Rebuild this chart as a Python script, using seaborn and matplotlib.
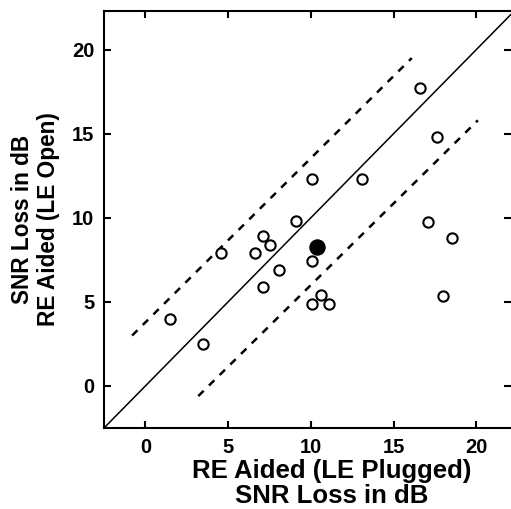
import numpy as np
import pandas as pd
import seaborn as sns
import matplotlib
matplotlib.use('Agg')
import matplotlib.pyplot as plt

# plain white style with inward ticks
sns.set_style('ticks')
plt.rcParams['font.family'] = ['Liberation Sans', 'DejaVu Sans']
plt.rcParams['font.weight'] = 'bold'
plt.rcParams['text.color'] = 'black'
plt.rcParams['axes.labelcolor'] = 'black'
plt.rcParams['axes.edgecolor'] = 'black'
plt.rcParams['xtick.color'] = 'black'
plt.rcParams['ytick.color'] = 'black'

# individual listeners: RE aided (LE plugged) vs RE aided (LE open), dB SNR loss
plugged = [1.5, 3.5, 4.6, 6.6, 7.1, 7.55, 8.1, 7.1, 9.1, 10.1, 10.6, 10.1, 11.1,
           17.1, 18.55, 18.0, 16.6, 17.6, 10.1, 13.1]
open_ear = [4.0, 2.5, 7.9, 7.9, 8.9, 8.4, 6.9, 5.9, 9.8, 7.45, 5.4, 4.9, 4.9,
            9.75, 8.8, 5.35, 17.75, 14.8, 12.3, 12.3]

# group mean (filled symbol)
mean_plugged = [10.4]
mean_open = [8.25]

# unity line and the +/- critical difference lines
unity_x = [-2.5, 22.5]
unity_y = [-2.5, 22.5]
upper_x = [-0.8, 16.1]
upper_y = [3.0, 19.5]
lower_x = [3.2, 20.1]
lower_y = [-0.6, 15.8]

xticks = [0, 5, 10, 15, 20]
yticks = [0, 5, 10, 15, 20]

pts = pd.DataFrame({'plugged': plugged, 'open': open_ear})
mean = pd.DataFrame({'plugged': mean_plugged, 'open': mean_open})

fig = plt.figure(figsize=(5.11, 5.09), dpi=100)
ax = fig.add_axes([104 / 511, 1 - 428 / 509, 1 - 104 / 511, (428 - 11) / 509])

ax.plot(unity_x, unity_y, color='black', lw=1.1)
ax.plot(upper_x, upper_y, color='black', lw=1.8, ls=(0, (3, 3)))
ax.plot(lower_x, lower_y, color='black', lw=1.8, ls=(0, (3, 3)))

sns.scatterplot(data=pts, x='plugged', y='open', ax=ax, s=55, marker='o',
                facecolor='white', edgecolor='black', linewidth=1.5, zorder=3)
sns.scatterplot(data=mean, x='plugged', y='open', ax=ax, s=120, marker='o',
                color='black', edgecolor='black', zorder=4)

ax.set_xlim(-2.5, 22.1)
ax.set_ylim(-2.5, 22.3)
ax.set_xticks(xticks)
ax.set_yticks(yticks)
ax.tick_params(direction='in', length=5, width=1.5, labelsize=14.5, pad=7,
               top=True, right=True)
for lab in ax.get_xticklabels() + ax.get_yticklabels():
    lab.set_fontweight('bold')
for side in ['left', 'bottom', 'top']:
    ax.spines[side].set_linewidth(1.5)
ax.spines['right'].set_visible(False)

ax.set_xlabel('RE Aided (LE Plugged)\nSNR Loss in dB', fontsize=18.5, fontweight='bold',
              linespacing=1.05, va='center')
ax.xaxis.set_label_coords(0.56, -0.132)
ax.set_ylabel('SNR Loss in dB\nRE Aided (LE Open)', fontsize=16.3, fontweight='bold',
              linespacing=1.2, va='center')
ax.yaxis.set_label_coords(-0.168, 0.5)

fig.savefig('out.png', dpi=100)
